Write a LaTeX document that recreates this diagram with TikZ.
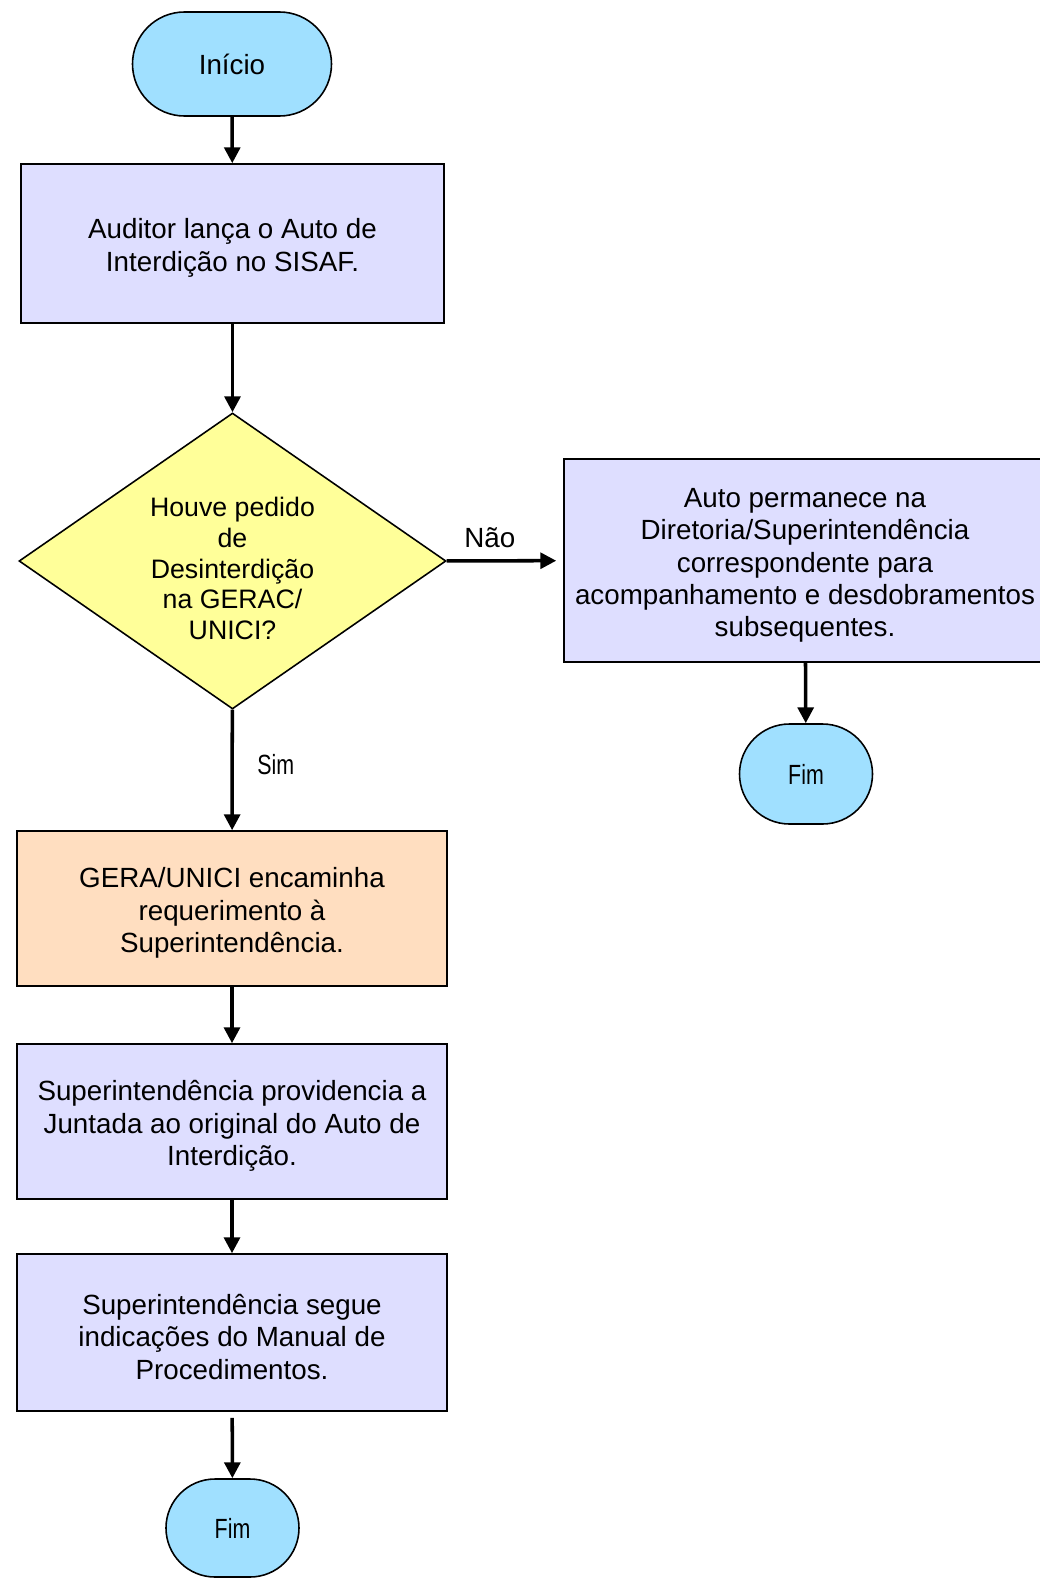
\documentclass[tikz,border=0pt]{standalone}
\usepackage{fontspec}
\setmainfont{Liberation Sans}
\usetikzlibrary{shapes.geometric,shapes.misc,arrows.meta}

\definecolor{termblue}{RGB}{160,224,255}
\definecolor{boxlilac}{RGB}{222,222,255}
\definecolor{decyellow}{RGB}{255,255,153}
\definecolor{boxpeach}{RGB}{255,222,192}

\newcommand{\narrowtext}[1]{\scalebox{0.77}[1]{#1}}
\newcommand{\toppad}[1][16.5pt]{\rule{0pt}{#1}}

\begin{document}
\begin{tikzpicture}[>={Triangle[length=9pt,width=9pt]},
        every node/.style={font=\fontsize{15.8}{18.4}\selectfont, align=center},
        terminal/.style={rounded rectangle, draw, line width=0.9pt, fill=termblue, inner sep=0pt},
        process/.style={rectangle, draw, line width=0.9pt, fill=boxlilac, inner sep=0pt},
        flow/.style={->, line width=2pt}]

        % Page size of the reference
        \useasboundingbox (0,0) rectangle (20.78,-31.58);

        % Start
        \node[terminal, minimum width=3.98cm, minimum height=2.08cm] (inicio) at (4.64,-1.28) {Início};

        % Auditor step
        \node[process, minimum width=8.46cm, minimum height=3.18cm] (auditor) at (4.65,-4.87)
            {\toppad Auditor lança o Auto de\\ Interdição no SISAF.};

        % Decision
        \node[diamond, draw, line width=0.9pt, fill=decyellow, aspect=1.44, inner sep=0pt,
              minimum width=8.54cm, minimum height=5.92cm, font=\fontsize{15.2}{17.6}\selectfont] (pedido) at (4.65,-11.22)
            {\toppad[19.5pt]Houve pedido\\ de\\ Desinterdição\\ na GERAC/\\ UNICI?};

        % Branch "Nao" (box runs past the right edge)
        \node[process, minimum width=9.64cm, minimum height=4.06cm] (permanece) at (16.1,-11.21)
            {\toppad Auto permanece na\\ Diretoria/Superintendência\\ correspondente para\\ acompanhamento e desdobramentos\\ subsequentes.};
        \node[terminal, minimum width=2.66cm, minimum height=2.0cm] (fimnao) at (16.12,-15.48) {\narrowtext{Fim}};

        % Branch "Sim"
        \node[process, fill=boxpeach, minimum width=8.6cm, minimum height=3.1cm] (gera) at (4.64,-18.17)
            {\toppad GERA/UNICI encaminha\\ requerimento à\\ Superintendência.};
        \node[process, minimum width=8.6cm, minimum height=3.1cm] (juntada) at (4.64,-22.43)
            {\toppad Superintendência providencia a\\ Juntada ao original do Auto de\\ Interdição.};
        \node[process, minimum width=8.6cm, minimum height=3.14cm] (manual) at (4.64,-26.65)
            {\toppad Superintendência segue\\ indicações do Manual de\\ Procedimentos.};
        \node[terminal, minimum width=2.66cm, minimum height=1.96cm] (fimsim) at (4.65,-30.56) {\narrowtext{Fim}};

        % Connectors
        \draw[flow] (inicio) -- (auditor);
        \draw[flow] (auditor) -- (pedido);
        \draw[flow, shorten >=0.14cm] (pedido) -- node[above=0.1cm, xshift=-0.3cm] (nao) {Não} (permanece);
        \draw[flow] (permanece) -- (fimnao);
        \draw[flow] (pedido) -- node[right=0.35cm, yshift=0.1cm] (sim) {\narrowtext{Sim}} (gera);
        \draw[flow] (gera) -- (juntada);
        \draw[flow] (juntada) -- (manual);
        \draw[flow, shorten <=0.12cm] (manual) -- (fimsim);

    \end{tikzpicture}
\end{document}
